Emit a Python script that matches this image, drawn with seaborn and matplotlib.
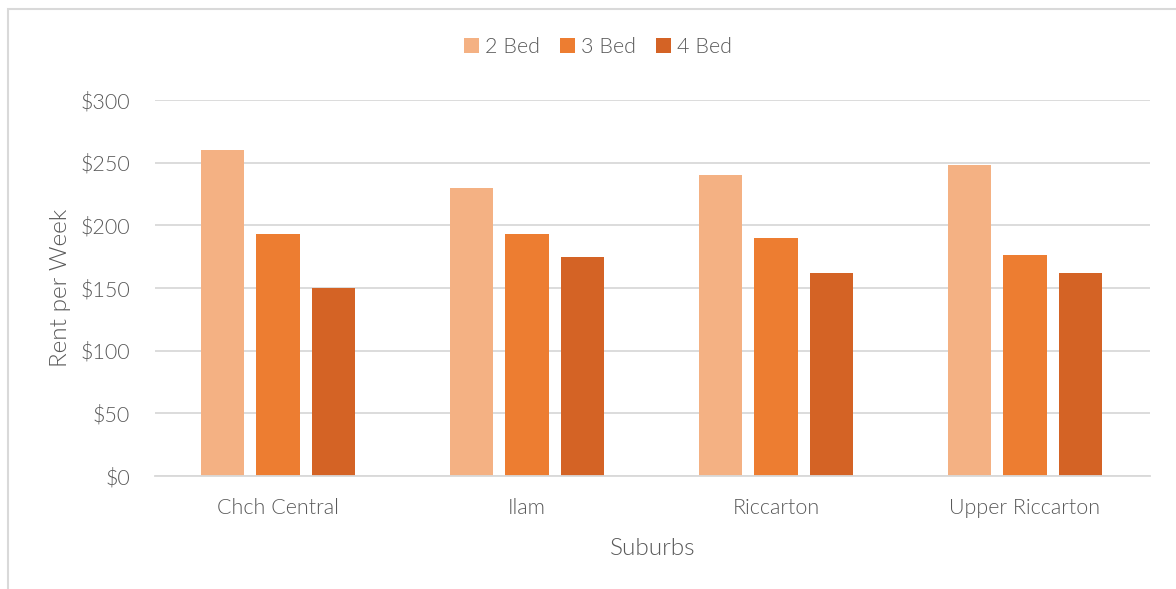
import matplotlib
matplotlib.use("Agg")
import matplotlib.pyplot as plt
from matplotlib.patches import Rectangle
from matplotlib.ticker import FuncFormatter
import seaborn as sns
import pandas as pd

suburbs = ["Chch Central", "Ilam", "Riccarton", "Upper Riccarton"]
bed_types = ["2 Bed", "3 Bed", "4 Bed"]
rent_2bed = [260, 230, 240, 248]
rent_3bed = [193, 193, 190, 176]
rent_4bed = [150, 175, 162, 162]
y_ticks = [0, 50, 100, 150, 200, 250, 300]

palette = ["#F4B183", "#ED7D31", "#D46325"]
text_color = "#595959"
grid_color = "#D9D9D9"
font_weight = 300

rows = []
for values, bed in zip([rent_2bed, rent_3bed, rent_4bed], bed_types):
    for suburb, v in zip(suburbs, values):
        rows.append({"Suburbs": suburb, "Bedrooms": bed, "Rent": v})
df = pd.DataFrame(rows)

sns.set_theme(style="white")
plt.rcParams["font.family"] = ["Lato", "DejaVu Sans"]

fig = plt.figure(figsize=(11.76, 5.89), dpi=100)
ax = fig.add_axes([155 / 1176, 1 - 476 / 589, 995 / 1176, 376 / 589])

sns.barplot(data=df, x="Suburbs", y="Rent", hue="Bedrooms", order=suburbs,
            hue_order=bed_types, palette=palette, width=0.663, gap=0.218,
            saturation=1, linewidth=0, ax=ax, legend=True)

ax.set_xlim(-0.494, 3.502)
ax.set_ylim(0, 300)
ax.set_yticks(y_ticks)
ax.yaxis.set_major_formatter(FuncFormatter(lambda v, p: f"${v:.0f}"))
ax.grid(axis="y", color=grid_color, linewidth=1.3)
ax.set_axisbelow(True)
for s in ["top", "right", "left"]:
    ax.spines[s].set_visible(False)
ax.spines["bottom"].set_color(grid_color)
ax.spines["bottom"].set_linewidth(1.3)
ax.tick_params(axis="y", length=0, labelsize=15.5, labelcolor=text_color,
               pad=18)
ax.tick_params(axis="x", length=0, labelsize=15.5, labelcolor=text_color,
               pad=16)
for lbl in ax.get_xticklabels() + ax.get_yticklabels():
    lbl.set_fontweight(font_weight)

ax.set_xlabel("Suburbs", fontsize=17.5, color=text_color,
              fontweight=font_weight, labelpad=14)
ax.set_ylabel("Rent per Week", fontsize=17.5, color=text_color,
              fontweight=font_weight, labelpad=7)

ax.legend(loc="center", bbox_to_anchor=(598 / 1176, 1 - 47 / 589),
          bbox_transform=fig.transFigure, ncol=3, frameon=False,
          handlelength=0.7, handleheight=0.7, handletextpad=0.25,
          columnspacing=0.95, prop={"size": 15.5, "weight": font_weight},
          labelcolor=text_color)

# chart frame
fig.add_artist(Rectangle((8 / 1176, -0.1), 1.2, 1 - 9 / 589 + 0.1,
                         transform=fig.transFigure, fill=False,
                         edgecolor=grid_color, linewidth=1.5))

fig.savefig("out.png", dpi=100)
